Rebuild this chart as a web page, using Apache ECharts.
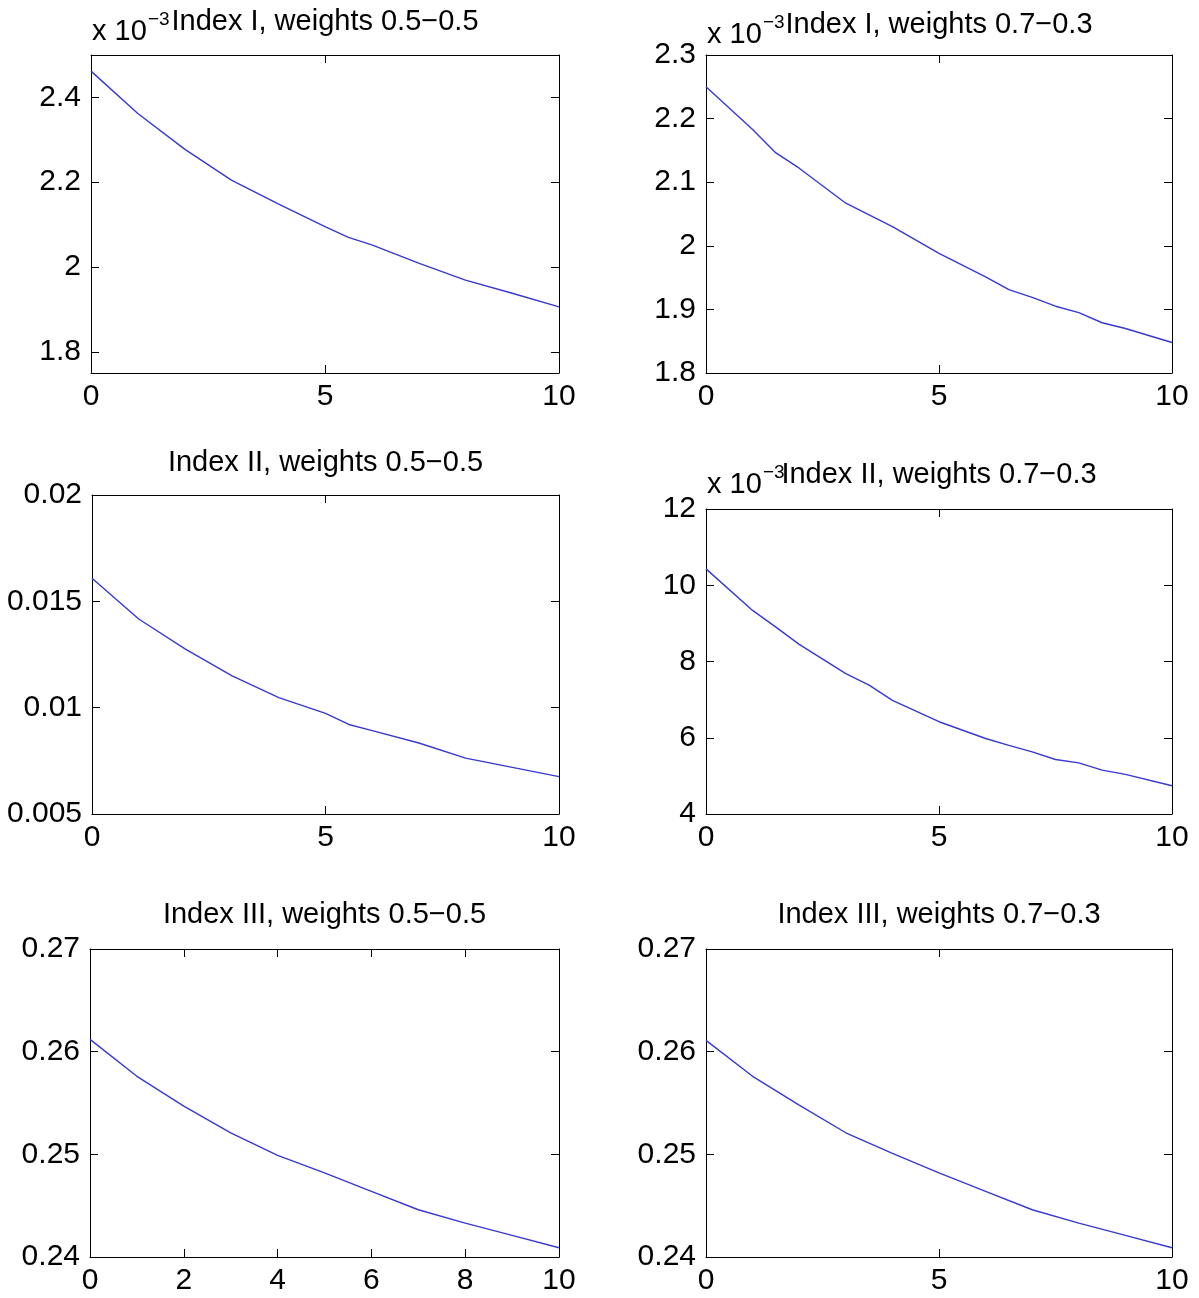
<!DOCTYPE html>
<html>
<head>
<meta charset="utf-8">
<script src="https://cdn.jsdelivr.net/npm/echarts@6/dist/echarts.min.js"></script>
<style>
html,body{margin:0;padding:0;background:#fff;}
#chart{width:1199px;height:1298px;}
</style>
</head>
<body>
<div id="chart"></div>
<script>
// ---------- data ----------
// Index I, weights 0.5-0.5 (values x 10^-3)
const x_I_55 = [0, 1, 2, 3, 4, 5, 5.5, 6, 7, 8, 9, 10];
const y_I_55 = [2.462, 2.362, 2.278, 2.205, 2.149, 2.095, 2.070, 2.052, 2.009, 1.969, 1.938, 1.906];
// Index I, weights 0.7-0.3 (values x 10^-3)
const x_I_73 = [0, 1, 1.5, 2, 3, 4, 5, 6, 6.5, 7, 7.5, 8, 8.5, 9, 10];
const y_I_73 = [2.250, 2.183, 2.146, 2.122, 2.067, 2.030, 1.988, 1.951, 1.931, 1.919, 1.905, 1.895, 1.879, 1.870, 1.848];
// Index II, weights 0.5-0.5
const x_II_55 = [0, 1, 2, 3, 4, 5, 5.5, 6, 7, 8, 9, 10];
const y_II_55 = [0.01609, 0.01417, 0.01275, 0.01149, 0.01047, 0.00973, 0.00921, 0.00892, 0.00834, 0.00763, 0.00719, 0.00676];
// Index II, weights 0.7-0.3 (values x 10^-3)
const x_II_73 = [0, 1, 1.5, 2, 3, 3.5, 4, 5, 6, 6.5, 7, 7.5, 8, 8.5, 9, 10];
const y_II_73 = [10.43, 9.34, 8.90, 8.45, 7.68, 7.38, 6.98, 6.42, 5.98, 5.80, 5.63, 5.43, 5.34, 5.15, 5.04, 4.74];
// Index III, weights 0.5-0.5
const x_III_55 = [0, 1, 2, 3, 4, 5, 6, 7, 8, 9, 10];
const y_III_55 = [0.2612, 0.2576, 0.2547, 0.2521, 0.2499, 0.2482, 0.2464, 0.2446, 0.2433, 0.2421, 0.2409];
// Index III, weights 0.7-0.3
const x_III_73 = [0, 1, 2, 3, 4, 5, 6, 7, 8, 9, 10];
const y_III_73 = [0.2611, 0.2576, 0.2548, 0.2521, 0.2501, 0.2482, 0.2464, 0.2446, 0.2433, 0.2421, 0.2409];

// tick labels
const yTicks_I_55 = [1.8, 2, 2.2, 2.4];
const yTicks_I_73 = [1.8, 1.9, 2, 2.1, 2.2, 2.3];
const yTicks_II_55 = [0.005, 0.01, 0.015, 0.02];
const yTicks_II_73 = [4, 6, 8, 10, 12];
const yTicks_III = [0.24, 0.25, 0.26, 0.27];
const xTicks_5 = [0, 5, 10];
const xTicks_2 = [0, 2, 4, 6, 8, 10];

const titles = [
  'Index I, weights 0.5\u22120.5', 'Index I, weights 0.7\u22120.3',
  'Index II, weights 0.5\u22120.5', 'Index II, weights 0.7\u22120.3',
  'Index III, weights 0.5\u22120.5', 'Index III, weights 0.7\u22120.3'
];
const expBase = 'x 10';
const expPower = '\u22123';

// ---------- layout ----------
const FONT = '"Liberation Sans", Arial, sans-serif';
const FS_TICK = 30;
const FS_TITLE = 29;
const panels = [
  {x: x_I_55,  y: y_I_55,  min: 1.75, max: 2.5,  yt: yTicks_I_55,  xt: xTicks_5, box: [91, 55, 468, 318],  title: titles[0], tY: 22, exp: true},
  {x: x_I_73,  y: y_I_73,  min: 1.8,  max: 2.3,  yt: yTicks_I_73,  xt: xTicks_5, box: [706, 55, 466, 318], title: titles[1], tY: 25, exp: true},
  {x: x_II_55, y: y_II_55, min: 0.005, max: 0.02, yt: yTicks_II_55, xt: xTicks_5, box: [92, 495, 467, 319], title: titles[2], tY: 463, exp: false},
  {x: x_II_73, y: y_II_73, min: 4,    max: 12,   yt: yTicks_II_73, xt: xTicks_5, box: [706, 509, 466, 305], title: titles[3], tY: 475, exp: true},
  {x: x_III_55, y: y_III_55, min: 0.24, max: 0.27, yt: yTicks_III, xt: xTicks_2, box: [90, 949, 469, 308], title: titles[4], tY: 915, exp: false},
  {x: x_III_73, y: y_III_73, min: 0.24, max: 0.27, yt: yTicks_III, xt: xTicks_5, box: [706, 949, 466, 308], title: titles[5], tY: 915, exp: false}
];

const grid = [], xAxis = [], yAxis = [], series = [], graphic = [];
const fmt = v => String(parseFloat(v.toFixed(6)));
const tickStyle = {show: true, inside: true, length: 8, lineStyle: {color: '#000', width: 1}};
const lineAxis = {show: true, onZero: false, lineStyle: {color: '#000', width: 1}};

panels.forEach((p, i) => {
  const [l, t, w, h] = p.box;
  grid.push({left: l, top: t, width: w, height: h, containLabel: false});
  xAxis.push({
    gridIndex: i, type: 'value', position: 'bottom', min: 0, max: 10,
    axisLine: lineAxis, splitLine: {show: false},
    axisTick: Object.assign({}, tickStyle, {customValues: p.xt}),
    axisLabel: {show: true, customValues: p.xt, formatter: fmt, color: '#000', fontSize: FS_TICK, fontFamily: FONT, margin: 9}
  });
  xAxis.push({
    gridIndex: i, type: 'value', position: 'top', min: 0, max: 10,
    axisLine: lineAxis, splitLine: {show: false},
    axisTick: Object.assign({}, tickStyle, {customValues: p.xt}),
    axisLabel: {show: false}
  });
  yAxis.push({
    gridIndex: i, type: 'value', position: 'left', min: p.min, max: p.max,
    axisLine: lineAxis, splitLine: {show: false},
    axisTick: Object.assign({}, tickStyle, {customValues: p.yt}),
    axisLabel: {show: true, customValues: p.yt, formatter: fmt, color: '#000', fontSize: FS_TICK, fontFamily: FONT, margin: 10}
  });
  yAxis.push({
    gridIndex: i, type: 'value', position: 'right', min: p.min, max: p.max,
    axisLine: lineAxis, splitLine: {show: false},
    axisTick: Object.assign({}, tickStyle, {customValues: p.yt}),
    axisLabel: {show: false}
  });
  series.push({
    type: 'line', xAxisIndex: 2 * i, yAxisIndex: 2 * i,
    data: p.x.map((xv, k) => [xv, p.y[k]]),
    showSymbol: false, symbol: 'none', smooth: false,
    lineStyle: {color: '#3838d4', width: 1.4},
    animation: false
  });
  graphic.push({
    type: 'text', x: l + w / 2, y: p.tY,
    style: {text: p.title, fill: '#000', font: FS_TITLE + 'px ' + FONT, textAlign: 'center', textVerticalAlign: 'middle'}
  });
  if (p.exp) {
    graphic.push({
      type: 'text', x: l + 1, y: p.tY + 10,
      style: {text: expBase, fill: '#000', font: FS_TITLE + 'px ' + FONT, textAlign: 'left', textVerticalAlign: 'middle'}
    });
    graphic.push({
      type: 'text', x: l + 57, y: p.tY - 2,
      style: {text: expPower, fill: '#000', font: '19px ' + FONT, textAlign: 'left', textVerticalAlign: 'middle'}
    });
  }
});

const chart = echarts.init(document.getElementById('chart'), null, {renderer: 'canvas'});
chart.setOption({
  animation: false,
  backgroundColor: '#fff',
  grid, xAxis, yAxis, series, graphic
});
</script>
</body>
</html>
